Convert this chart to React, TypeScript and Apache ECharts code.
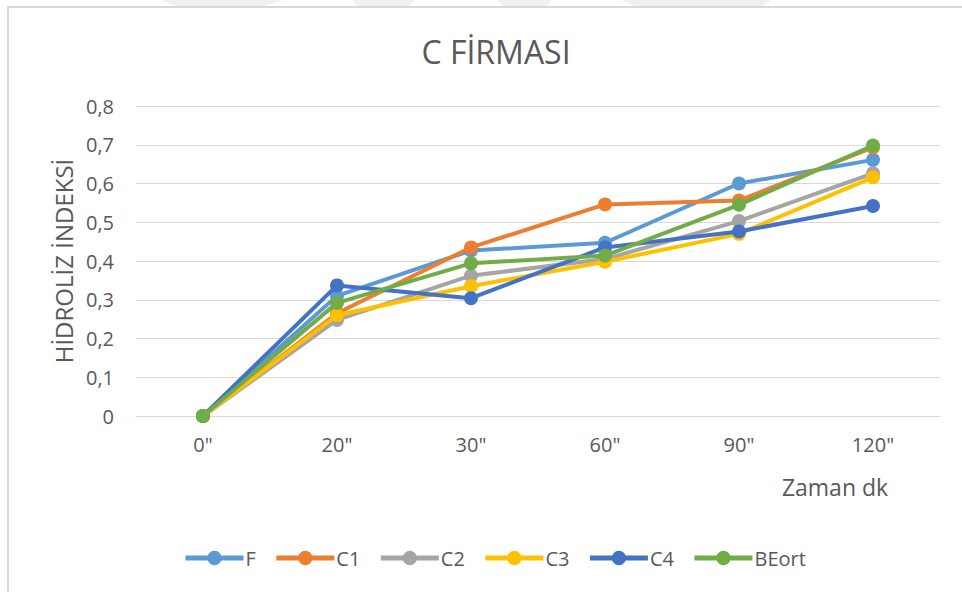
import React, { useEffect, useRef } from "react";
import * as echarts from "echarts";

const categories = ['0"', '20"', '30"', '60"', '90"', '120"'];
const seriesNames = ["F", "C1", "C2", "C3", "C4", "BEort"];
const F = [0, 0.31, 0.427, 0.447, 0.6, 0.661];
const C1 = [0, 0.265, 0.435, 0.546, 0.556, 0.693];
const C2 = [0, 0.248, 0.362, 0.405, 0.503, 0.626];
const C3 = [0, 0.26, 0.335, 0.398, 0.47, 0.616];
const C4 = [0, 0.337, 0.304, 0.435, 0.476, 0.542];
const BEort = [0, 0.292, 0.394, 0.414, 0.545, 0.698];
const colors = ["#5B9BD5", "#ED7D31", "#A5A5A5", "#FFC000", "#4472C4", "#70AD47"];
const values = [F, C1, C2, C3, C4, BEort];

const FONT = "'Open Sans', 'Noto Sans', sans-serif";
const TXT = "#595959";

export default function App() {
  const ref = useRef<HTMLDivElement>(null);
  useEffect(() => {
    if (!ref.current) return;
    const chart = echarts.init(ref.current, undefined, { renderer: "svg" });
    chart.setOption({
      animation: false,
      backgroundColor: "#ffffff",
      textStyle: { fontFamily: FONT, color: TXT },
      title: {
        text: "C FİRMASI",
        left: 491,
        top: 30,
        textAlign: "center",
        textStyle: { fontFamily: FONT, fontSize: 32, fontWeight: "normal", color: TXT },
      },
      grid: { left: 136, right: 22, top: 106, bottom: 176 },
      legend: {
        data: seriesNames,
        left: 178,
        top: 543,
        itemWidth: 58,
        itemHeight: 18,
        itemGap: 18,
        lineStyle: { width: 5 },
        textStyle: { fontFamily: FONT, fontSize: 20, color: TXT, padding: [0, 0, 0, -3] },
      },
      xAxis: {
        type: "category",
        data: categories,
        boundaryGap: true,
        axisLine: { lineStyle: { color: "#d9d9d9", width: 1 } },
        axisTick: { show: false },
        axisLabel: { fontFamily: FONT, fontSize: 20, color: TXT, margin: 18 },
      },
      yAxis: {
        type: "value",
        min: 0,
        max: 0.8,
        interval: 0.1,
        name: "HİDROLİZ İNDEKSİ",
        nameLocation: "middle",
        nameGap: 60,
        nameRotate: 90,
        nameTextStyle: { fontFamily: FONT, fontSize: 24, color: TXT },
        axisLine: { show: false },
        axisTick: { show: false },
        splitLine: { lineStyle: { color: "#d9d9d9", width: 1 } },
        axisLabel: {
          fontFamily: FONT,
          fontSize: 20,
          color: TXT,
          margin: 22,
          formatter: (v: number) => (v === 0 ? "0" : v.toFixed(1).replace(".", ",")),
        },
      },
      graphic: [
        { type: "polygon", shape: { points: [[160, 0], [282, 0], [262, 7], [180, 7]] }, style: { fill: "#f0f0f0" }, silent: true },
        { type: "polygon", shape: { points: [[352, 0], [414, 0], [408, 7], [358, 7]] }, style: { fill: "#f0f0f0" }, silent: true },
        { type: "polygon", shape: { points: [[498, 0], [552, 0], [546, 7], [504, 7]] }, style: { fill: "#f0f0f0" }, silent: true },
        { type: "polygon", shape: { points: [[622, 0], [772, 0], [760, 7], [636, 7]] }, style: { fill: "#f0f0f0" }, silent: true },
        {
          type: "rect",
          shape: { x: 8, y: 7, width: 980, height: 620 },
          style: { fill: "none", stroke: "#d9d9d9", lineWidth: 2 },
          silent: true,
        },
        {
          type: "text",
          x: 835,
          y: 487,
          style: {
            text: "Zaman dk",
            fontFamily: FONT,
            fontSize: 23,
            fill: TXT,
            textAlign: "center",
            textVerticalAlign: "middle",
          },
        },
      ],
      series: seriesNames.map((name, i) => ({
        name,
        type: "line",
        data: values[i],
        symbol: "circle",
        symbolSize: 14,
        showSymbol: true,
        itemStyle: { color: colors[i] },
        lineStyle: { color: colors[i], width: 4 },
        z: 2 + i,
      })),
    });
    return () => chart.dispose();
  }, []);
  return <div ref={ref} style={{ position: "fixed", left: 0, top: 0, width: 962, height: 592 }} />;
}
